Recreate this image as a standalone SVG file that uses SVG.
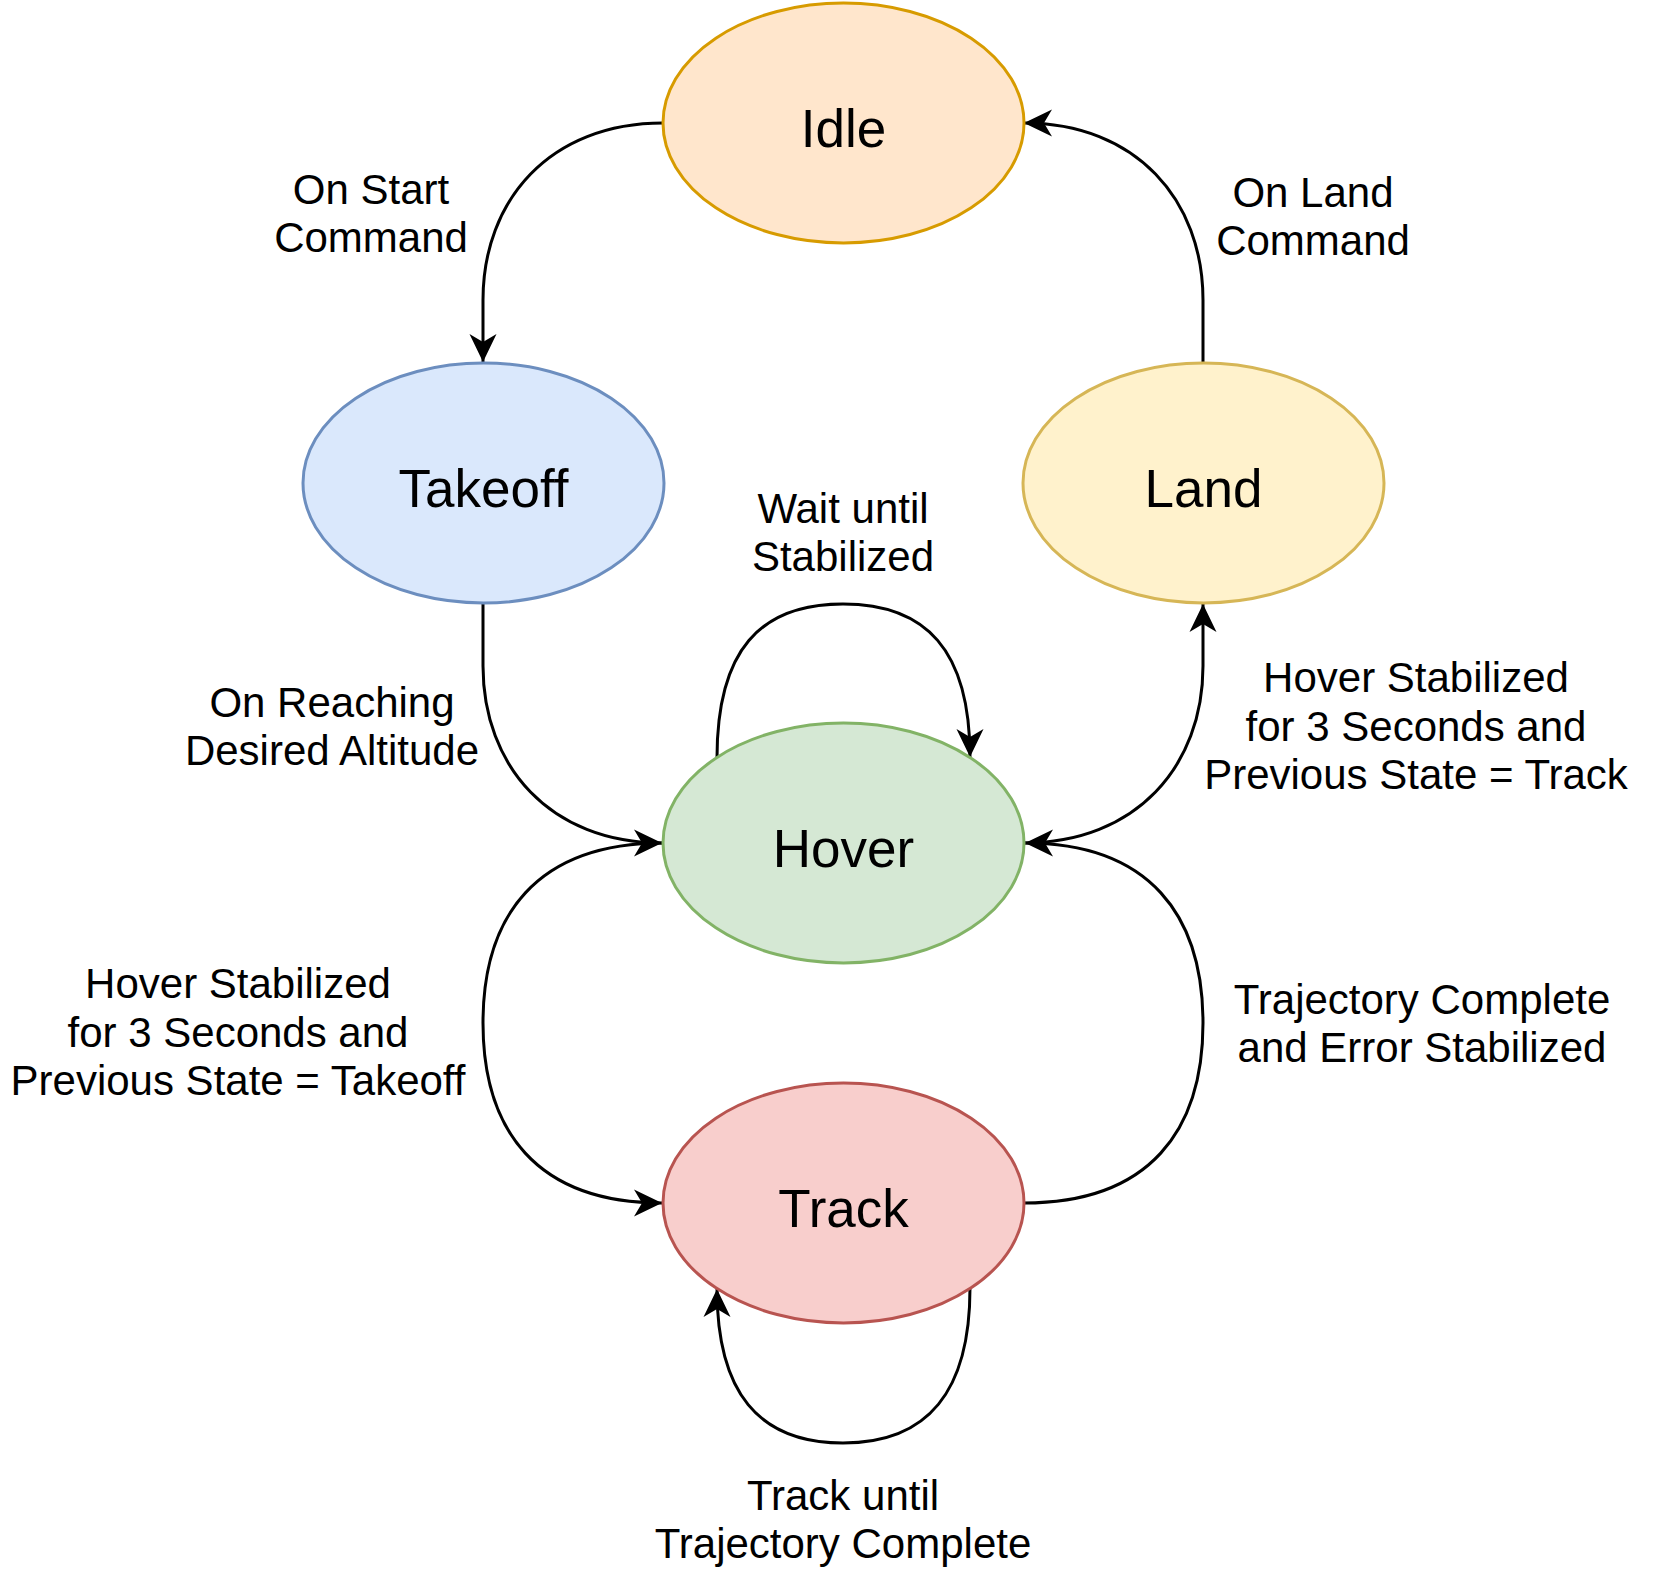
<svg xmlns="http://www.w3.org/2000/svg" width="1654" height="1594" viewBox="0 0 1654 1594">
<style>
  .node ellipse { stroke-width: 3; }
  .ntext { font-family: "Liberation Sans", Arial, sans-serif; font-size: 53px; fill: #000; text-anchor: middle; }
  .label { font-family: "Liberation Sans", Arial, sans-serif; font-size: 42px; fill: #000; text-anchor: middle; }
  .edge { fill: none; stroke: #000; stroke-width: 3; }
  .arr { marker-end: url(#arrow); }
</style>
<defs>
  <marker id="arrow" markerUnits="userSpaceOnUse" markerWidth="30" markerHeight="30" viewBox="0 0 30 30" refX="29" refY="15" orient="auto">
    <path d="M1,1.5 L29,15 L1,28.5 L9,15 Z" fill="#000"/>
  </marker>
</defs>
<rect width="1654" height="1594" fill="#fff"/>

<g id="connectors">
  <!-- Idle -> Takeoff -->
  <path class="edge arr" d="M663,123 C550,123 483,200 483,300 L483,362"/>
  <!-- Land -> Idle -->
  <path class="edge arr" d="M1203,363 L1203,300 C1203,200 1136,123 1024,123"/>
  <!-- Takeoff -> Hover -->
  <path class="edge arr" d="M483,603 L483,666 C483,766 550,843 662,843"/>
  <!-- Hover -> Land -->
  <path class="edge arr" d="M1024,843 C1136,843 1203,766 1203,666 L1203,604"/>
  <!-- Track -> Hover -->
  <path class="edge arr" d="M1024,1203 C1150,1203 1203,1130 1203,1023 C1203,916 1150,843 1025,843"/>
  <!-- Hover -> Track -->
  <path class="edge arr" d="M663,843 C536,843 483,916 483,1023 C483,1130 536,1203 662,1203"/>
  <!-- Hover self loop -->
  <path class="edge arr" d="M717,758 C717,650 760,604 843,604 C926,604 970,650 970,757"/>
  <!-- Track self loop -->
  <path class="edge arr" d="M970,1288 C970,1392 928,1443 843,1443 C758,1443 717,1392 717,1289"/>
</g>

<g id="idle" class="node">
  <ellipse cx="843.5" cy="123" rx="180.5" ry="120" fill="#ffe6cc" stroke="#d79b00"/>
  <text class="ntext" x="843.5" y="147">Idle</text>
</g>
<g id="takeoff" class="node">
  <ellipse cx="483.5" cy="483" rx="180.5" ry="120" fill="#dae8fc" stroke="#6c8ebf"/>
  <text class="ntext" x="483.5" y="507">Takeoff</text>
</g>
<g id="land" class="node">
  <ellipse cx="1203.5" cy="483" rx="180.5" ry="120" fill="#fff2cc" stroke="#d6b656"/>
  <text class="ntext" x="1203.5" y="507">Land</text>
</g>
<g id="hover" class="node">
  <ellipse cx="843.5" cy="843" rx="180.5" ry="120" fill="#d5e8d4" stroke="#82b366"/>
  <text class="ntext" x="843.5" y="867">Hover</text>
</g>
<g id="track" class="node">
  <ellipse cx="843.5" cy="1203" rx="180.5" ry="120" fill="#f8cecc" stroke="#b85450"/>
  <text class="ntext" x="843.5" y="1227">Track</text>
</g>

<g id="labels">
  <text class="label" x="371" y="204">On Start</text>
  <text class="label" x="371" y="252">Command</text>
  <text class="label" x="1313" y="207">On Land</text>
  <text class="label" x="1313" y="255">Command</text>
  <text class="label" x="843" y="523">Wait until</text>
  <text class="label" x="843" y="571">Stabilized</text>
  <text class="label" x="332" y="717">On Reaching</text>
  <text class="label" x="332" y="765">Desired Altitude</text>
  <text class="label" x="1416" y="692">Hover Stabilized</text>
  <text class="label" x="1416" y="741">for 3 Seconds and</text>
  <text class="label" x="1416" y="789">Previous State = Track</text>
  <text class="label" x="238" y="998">Hover Stabilized</text>
  <text class="label" x="238" y="1047">for 3 Seconds and</text>
  <text class="label" x="238" y="1095">Previous State = Takeoff</text>
  <text class="label" x="1422" y="1014">Trajectory Complete</text>
  <text class="label" x="1422" y="1062">and Error Stabilized</text>
  <text class="label" x="843" y="1510">Track until</text>
  <text class="label" x="843" y="1558">Trajectory Complete</text>
</g>
</svg>
